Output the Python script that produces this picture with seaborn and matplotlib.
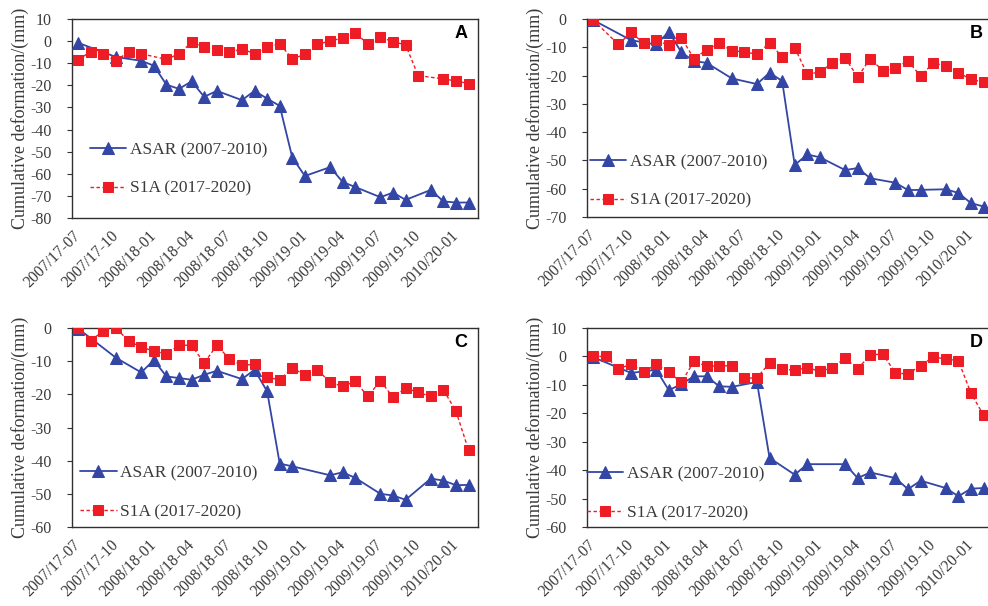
import matplotlib
matplotlib.use("Agg")
import matplotlib.pyplot as plt
import seaborn as sns
import pandas as pd

# ---------------- data (month index from 2007-07, values in mm) ----------------
tick_pos = [0, 3, 6, 9, 12, 15, 18, 21, 24, 27, 30]
tick_labels = ["2007/17-07", "2007/17-10", "2008/18-01", "2008/18-04", "2008/18-07",
               "2008/18-10", "2009/19-01", "2009/19-04", "2009/19-07", "2009/19-10",
               "2010/20-01"]

A_asar_idx = [0, 3, 5, 6, 7, 8, 9, 10, 11, 13, 14, 15, 16, 17, 18, 20, 21, 22, 24, 25, 26, 28, 29, 30, 31]
A_asar = [-0.8, -7.2, -8.9, -11.1, -19.7, -21.6, -18.2, -25.2, -22.5, -26.7, -22.5, -26.0, -29.3,
          -52.7, -61.0, -57.0, -63.7, -66.0, -70.6, -68.5, -71.8, -67.3, -72.5, -73.0, -73.0]
A_s1a_idx = [0, 1, 2, 3, 4, 5, 7, 8, 9, 10, 11, 12, 13, 14, 15, 16, 17, 18, 19, 20, 21, 22, 23, 24,
             25, 26, 27, 29, 30, 31]
A_s1a = [-8.4, -4.7, -6.0, -9.0, -4.7, -5.7, -8.3, -5.7, -0.6, -2.7, -4.2, -5.1, -3.5, -5.7, -2.7,
         -1.2, -8.0, -6.0, -1.4, 0.0, 1.4, 3.6, -1.2, 1.8, -0.3, -1.7, -15.6, -17.1, -18.0, -19.2]

B_asar_idx = [0, 3, 5, 6, 7, 8, 9, 11, 13, 14, 15, 16, 17, 18, 20, 21, 22, 24, 25, 26, 28, 29, 30, 31]
B_asar = [-0.4, -7.5, -9.0, -4.5, -11.8, -14.9, -15.5, -21.0, -23.0, -19.0, -21.9, -51.6, -47.9,
          -48.9, -53.4, -52.7, -56.3, -57.9, -60.5, -60.4, -60.2, -61.5, -65.1, -66.3]
B_s1a_idx = [0] + list(range(2, 32))
B_s1a = [-0.4, -9.0, -4.7, -8.6, -7.5, -9.3, -6.6, -14.1, -10.8, -8.6, -11.2, -11.6, -12.5, -8.4,
         -13.4, -10.1, -19.6, -18.7, -15.5, -13.7, -20.5, -14.0, -18.3, -17.3, -14.8, -20.2, -15.5,
         -16.7, -19.0, -21.3, -22.3]

C_asar_idx = [0, 3, 5, 6, 7, 8, 9, 10, 11, 13, 14, 15, 16, 17, 20, 21, 22, 24, 25, 26, 28, 29, 30, 31]
C_asar = [-0.2, -9.0, -13.4, -9.7, -14.6, -15.1, -15.6, -14.1, -12.9, -15.4, -12.6, -19.1, -40.9,
          -41.7, -44.4, -43.5, -45.2, -50.0, -50.5, -51.8, -45.4, -46.0, -47.4, -47.3]
C_s1a_idx = list(range(0, 32))
C_s1a = [-0.1, -3.8, -0.8, 0.0, -4.0, -5.7, -7.0, -7.8, -5.2, -5.2, -10.6, -5.2, -9.3, -11.3, -10.9,
         -14.9, -15.6, -12.1, -14.1, -12.6, -16.4, -17.6, -16.1, -20.6, -15.9, -20.9, -18.1, -19.4,
         -20.6, -18.6, -25.1, -36.8]

D_asar_idx = [0, 3, 5, 6, 7, 8, 9, 10, 11, 13, 14, 16, 17, 20, 21, 22, 24, 25, 26, 28, 29, 30, 31]
D_asar = [-0.3, -5.8, -4.7, -11.9, -9.7, -7.0, -7.0, -10.5, -10.7, -9.0, -35.7, -41.6, -37.9,
          -37.9, -42.8, -40.8, -42.8, -46.7, -43.7, -46.3, -49.2, -46.5, -46.3]
D_s1a_idx = list(range(0, 32))
D_s1a = [0.0, 0.0, -4.4, -2.7, -5.6, -2.7, -5.6, -9.1, -1.7, -3.5, -3.3, -3.3, -7.7, -7.5, -2.3,
         -4.4, -4.9, -3.9, -5.3, -3.9, -0.6, -4.4, 0.6, 0.8, -5.8, -6.2, -3.2, -0.2, -0.9, -1.5,
         -12.9, -20.7]

panel_letters = ["A", "B", "C", "D"]
y_limits = [(-80, 10), (-70, 0), (-60, 0), (-60, 10)]
series_labels = ["ASAR (2007-2010)", "S1A (2017-2020)"]

# ---------------- style ----------------
sns.set_theme(style="white")
plt.rcParams["font.family"] = ["Liberation Serif", "DejaVu Serif"]
plt.rcParams["axes.unicode_minus"] = False

BLUE = "#3345a5"
RED = "#ee1c25"
TXT = "#3a3a3a"

W, H = 988, 606
fig = plt.figure(figsize=(W / 100, H / 100), dpi=100)

# pixel boxes: left, top, right, bottom
boxes = [(72, 19, 478, 218), (587, 19, 993, 217), (72, 328, 478, 527), (587, 328, 993, 527)]
legend_centers = [(0.044, 0.244), (0.007, 0.18), (0.02, 0.172), (0.0, 0.168)]

data = [
    (A_asar_idx, A_asar, A_s1a_idx, A_s1a),
    (B_asar_idx, B_asar, B_s1a_idx, B_s1a),
    (C_asar_idx, C_asar, C_s1a_idx, C_s1a),
    (D_asar_idx, D_asar, D_s1a_idx, D_s1a),
]

for k, (box, (ai, av, si, sv)) in enumerate(zip(boxes, data)):
    l, t, r, b = box
    ax = fig.add_axes([l / W, 1 - b / H, (r - l) / W, (b - t) / H])
    df_a = pd.DataFrame({"m": ai, "v": av})
    df_s = pd.DataFrame({"m": si, "v": sv})
    sns.lineplot(data=df_a, x="m", y="v", ax=ax, color=BLUE, lw=1.3, marker="^",
                 markersize=8, markeredgecolor=BLUE, label=series_labels[0], zorder=3)
    sns.lineplot(data=df_s, x="m", y="v", ax=ax, color=RED, lw=1.0, marker="s",
                 markersize=6.8, markeredgecolor=RED, label=series_labels[1], zorder=4)
    ax.lines[1].set_linestyle((0, (2.5, 1.8)))

    ax.set_xlim(-0.5, 31.75)
    ax.set_ylim(*y_limits[k])
    ax.set_yticks(range(y_limits[k][0], y_limits[k][1] + 1, 10))
    ax.set_xticks(tick_pos)
    ax.set_xticklabels(tick_labels, rotation=45, ha="right", va="center",
                       rotation_mode="anchor", fontsize=11.3, color=TXT)
    ax.tick_params(axis="x", length=0, pad=11)
    ax.tick_params(axis="y", length=3.5, width=0.8, direction="out", left=True,
                   labelsize=11.5, labelcolor=TXT, pad=11, color="#333333")
    ax.set_xlabel("")
    ax.set_ylabel("Cumulative deformation/(mm)", fontsize=13, color=TXT)
    ax.yaxis.set_label_coords(-0.105, 0.5)
    for s in ax.spines.values():
        s.set_color("#303030")
        s.set_linewidth(1.0)
    ax.text(0.958, 0.925, panel_letters[k], transform=ax.transAxes, ha="center",
            va="center", fontsize=13, fontweight="bold", family="Liberation Sans",
            color="black")
    lx, ly = legend_centers[k]
    leg = ax.legend(loc="center left", bbox_to_anchor=(lx, ly), frameon=False,
                    fontsize=12.5, handlelength=2.1, handletextpad=0.2,
                    labelspacing=1.3, borderpad=0, borderaxespad=0)
    for txt in leg.get_texts():
        txt.set_color(TXT)

fig.savefig("out.png", dpi=100)
